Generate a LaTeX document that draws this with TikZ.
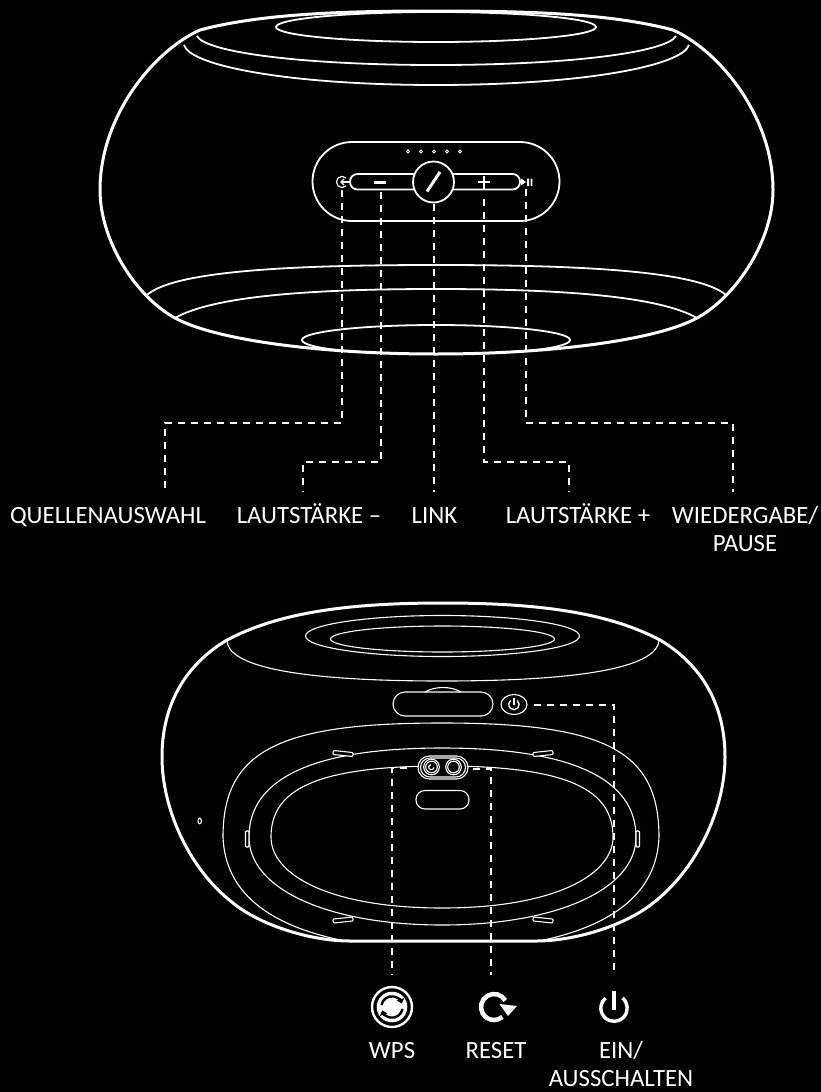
\documentclass[tikz,border=0pt]{standalone}
\usepackage{fontspec}
\setmainfont{Carlito}
\usetikzlibrary{arrows.meta}
\definecolor{ink}{RGB}{255,255,255}
\tikzset{
  body/.style={draw=ink,line width=3pt,line join=round},
  thin1/.style={draw=ink,line width=1.8pt},
  thin2/.style={draw=ink,line width=1.1pt},
  leader/.style={draw=ink,line width=2pt,dash pattern=on 7pt off 6pt},
  lab/.style={text=ink,font=\fontsize{24.8}{28}\selectfont,inner sep=0pt,align=center,anchor=base},
  iconline/.style={draw=ink,line width=3.4pt},
}
\begin{document}
\begin{tikzpicture}[x=1pt,y=-1pt]
\fill[black] (0,0) rectangle (821,1092);
\useasboundingbox (0,0) rectangle (821,1092);
%% TOP SPEAKER
\begin{scope}
\clip (436,11) .. controls (340,11) and (260,14) .. (200,30) .. controls (155,50) and (100,115) .. (100,190)
  .. controls (100,240) and (135,296) .. (175,318) .. controls (215,340) and (320,354) .. (436,354)
  .. controls (552,354) and (657,340) .. (697,318) .. controls (737,296) and (773,240) .. (773,190)
  .. controls (773,115) and (718,50) .. (673,30) .. controls (613,14) and (533,11) .. (436,11) -- cycle;
\draw[thin1] (436,27) ellipse [x radius=160,y radius=15];
\draw[thin1] (436,340) ellipse [x radius=134,y radius=15];
\end{scope}
\draw[thin1] (197,36) .. controls (205,52) and (300,65) .. (436,65) .. controls (572,65) and (667,52) .. (676,36);
\draw[thin1] (184,45) .. controls (190,66) and (290,85) .. (436,85) .. controls (582,85) and (682,66) .. (689,45);
\draw[thin1] (147,295) .. controls (175,270) and (300,265) .. (436,265) .. controls (572,265) and (697,270) .. (726,295);
\draw[thin1] (175,318) .. controls (215,295) and (320,289) .. (436,289) .. controls (552,289) and (657,295) .. (697,318);
\path[body] (436,11) .. controls (340,11) and (260,14) .. (200,30) .. controls (155,50) and (100,115) .. (100,190)
  .. controls (100,240) and (135,296) .. (175,318) .. controls (215,340) and (320,354) .. (436,354)
  .. controls (552,354) and (657,340) .. (697,318) .. controls (737,296) and (773,240) .. (773,190)
  .. controls (773,115) and (718,50) .. (673,30) .. controls (613,14) and (533,11) .. (436,11) -- cycle;
%% leaders top
\coordinate (q0) at (342,190); \coordinate (q1) at (342,423); \coordinate (q2) at (165,423); \coordinate (q3) at (165,492);
\coordinate (m0) at (381,192); \coordinate (m1) at (381,462); \coordinate (m2) at (303,462); \coordinate (m3) at (303,492);
\coordinate (l0) at (434,204); \coordinate (l3) at (434,492);
\coordinate (p0) at (484,199); \coordinate (p1) at (484,462); \coordinate (p2) at (569,462); \coordinate (p3) at (569,492);
\coordinate (w0) at (526,189); \coordinate (w1) at (526,423); \coordinate (w2) at (733,423); \coordinate (w3) at (733,492);
\draw[leader] (q0) -- (q1) -- (q2) -- (q3);
\draw[leader] (m0) -- (m1) -- (m2) -- (m3);
\draw[leader] (l0) -- (l3);
\draw[leader] (p0) -- (p1) -- (p2) -- (p3);
\draw[leader] (w0) -- (w1) -- (w2) -- (w3);
%% control panel
\draw[draw=ink,line width=1.8pt,rounded corners=39.5pt] (312.5,142) rectangle (559.5,221);
\draw[draw=ink,line width=1.8pt,fill=black,rounded corners=7.5pt] (350,174) rectangle (520,189.5);
\foreach \x in {408,421,434,447,460} \draw[draw=ink,line width=.9pt] (\x,151.5) circle (1.4);
\draw[draw=ink,line width=1.8pt,fill=black] (433.5,182) circle (20.5);
\draw[draw=ink,line width=3pt] (427,191.5) -- (440,172);
\fill[ink] (374,180.7) rectangle (386,183.7);
\draw[draw=ink,line width=2pt] (478,182) -- (490,182) (484,176) -- (484,190);
\draw[draw=ink,line width=1.2pt] (346,178) arc (-45:-315:5.6);
\draw[draw=ink,line width=1.3pt] (341,182) -- (349,182);
\draw[draw=ink,line width=1.3pt] (344,179) -- (341,182) -- (344,185);
\fill[ink] (521,178.5) -- (526,182) -- (521,185.5) -- cycle;
\fill[ink] (527.2,178.5) rectangle (529,186) (530.5,178.5) rectangle (532.3,186);
%% labels top
\node[lab] (tq) at (108,523.5) {QUELLENAUSWAHL};
\node[lab] (tm) at (309,523.5) {LAUTSTÄRKE –};
\node[lab] (tl) at (434.5,523.5) {LINK};
\node[lab] (tp) at (578,523.5) {LAUTSTÄRKE +};
\node[lab] (tw) at (745,551) {WIEDERGABE/\\PAUSE};
%% BOTTOM SPEAKER
\draw[thin2] (227,640) .. controls (227,665) and (290,681) .. (442,681) .. controls (594,681) and (658,665) .. (659,640);
\draw[thin2] (442.5,636) ellipse [x radius=137,y radius=20.5];
\draw[thin2] (442.5,639) ellipse [x radius=112,y radius=13];
\draw[thin2,rounded corners=12pt] (393,692) rectangle (493,716);
\draw[thin2] (425,692) .. controls (435,686) and (451,686) .. (461,692);
\draw[thin2] (514,704.5) ellipse [x radius=13,y radius=10];
\draw[draw=ink,line width=1.3pt] (517.3,700.5) arc (-50:230:5.2);
\draw[draw=ink,line width=1.3pt] (514,697.5) -- (514,704.5);
%% rings
\draw[thin2] (223,837) .. controls (223,750) and (280,723) .. (442,723) .. controls (604,723) and (659,750) .. (659,837) .. controls (657,890) and (617,925) .. (539,941);
\draw[thin2] (223,837) .. controls (225,890) and (265,925) .. (345,941);
\draw[thin2] (249,837) .. controls (249,780) and (310,748) .. (442,748) .. controls (574,748) and (636,780) .. (636,837) .. controls (636,890) and (555,925) .. (442,925) .. controls (330,925) and (249,890) .. (249,837) -- cycle;
\draw[thin2] (271,837) .. controls (271,790) and (315,766) .. (442,766) .. controls (569,766) and (613,790) .. (613,837) .. controls (613,875) and (554,908) .. (442,908) .. controls (330,908) and (271,875) .. (271,837) -- cycle;
\foreach \x/\a in {343/-6,543/6} \draw[thin2,fill=black,rounded corners=1pt,rotate around={\a:(\x,753.5)}] (\x-10,751.5) rectangle (\x+10,755.5);
\foreach \x/\a in {343/6,543/-6} \draw[thin2,fill=black,rounded corners=1pt,rotate around={\a:(\x,920)}] (\x-10,918) rectangle (\x+10,922);
\draw[thin2,fill=black,rounded corners=1pt] (245.5,831) rectangle (249,847);
\draw[thin2,fill=black,rounded corners=1pt] (636,831) rectangle (639.5,847);
\draw[thin2] (199.7,821) ellipse [x radius=1.7,y radius=2.8];
%% outline
\path[body] (443,603) .. controls (350,603) and (280,612) .. (227,640) .. controls (185,665) and (162,705) .. (162,757)
 .. controls (162,810) and (190,870) .. (233,903) .. controls (260,925) and (310,941) .. (350,941) -- (536,941)
 .. controls (576,941) and (626,925) .. (653,903) .. controls (696,870) and (725,810) .. (725,757)
 .. controls (725,705) and (702,665) .. (660,640) .. controls (607,612) and (536,603) .. (443,603) -- cycle;
%% leaders lower
\coordinate (e0) at (534,705); \coordinate (e1) at (614,705); \coordinate (e2) at (614,975);
\coordinate (a0) at (407,768); \coordinate (a1) at (392,768); \coordinate (a2) at (392,975);
\coordinate (b0) at (473,769); \coordinate (b1) at (491,769); \coordinate (b2) at (491,975);
\draw[leader] (e0) -- (e1) -- (e2);
\draw[leader] (a0) -- (a1) -- (a2);
\draw[leader] (b0) -- (b1) -- (b2);
%% button cluster
\draw[thin2,fill=black,rounded corners=11.5pt] (418,756) rectangle (468,779);
\draw[thin2,rounded corners=9.5pt] (420.5,758) rectangle (465.5,777);
\draw[thin2] (431.5,767) circle (7.8);
\draw[thin2] (431.5,767) circle (5.8);
\draw[thin2] (434,767.5) arc (10:260:2.7);
\draw[thin2] (453.5,767) circle (7.8);
\draw[thin2] (453.5,767) circle (5.8);
\draw[thin2,fill=black,rounded corners=9pt] (416,790.5) rectangle (469,809);
%% icons
\draw[draw=ink,line width=2.4pt] (392,1007) circle (20);
\fill[ink] (392,1007) circle (15.3);
\draw[draw=black,line width=2.4pt,-{Triangle[length=4.5pt,width=7.5pt]}] (381.5,1005) arc (-170:-18:10.5);
\draw[draw=black,line width=2.4pt,-{Triangle[length=4.5pt,width=7.5pt]}] (402.5,1009) arc (10:162:10.5);
\draw[draw=ink,line width=4.5pt] (505.3,1000.5) arc (-30:-310:13);
\fill[ink] (499.5,1004) -- (517,1006) -- (508,1016) -- cycle;
\draw[iconline] (622.5,998) arc (-50:230:13.2);
\draw[iconline] (614,990.7) -- (614,1010);
%% labels bottom
\node[lab] (tw2) at (392,1058) {WPS};
\node[lab] (tr) at (496,1058) {RESET};
\node[lab] (te) at (621,1086.5) {EIN/\\AUSSCHALTEN};
\end{tikzpicture}
\end{document}
